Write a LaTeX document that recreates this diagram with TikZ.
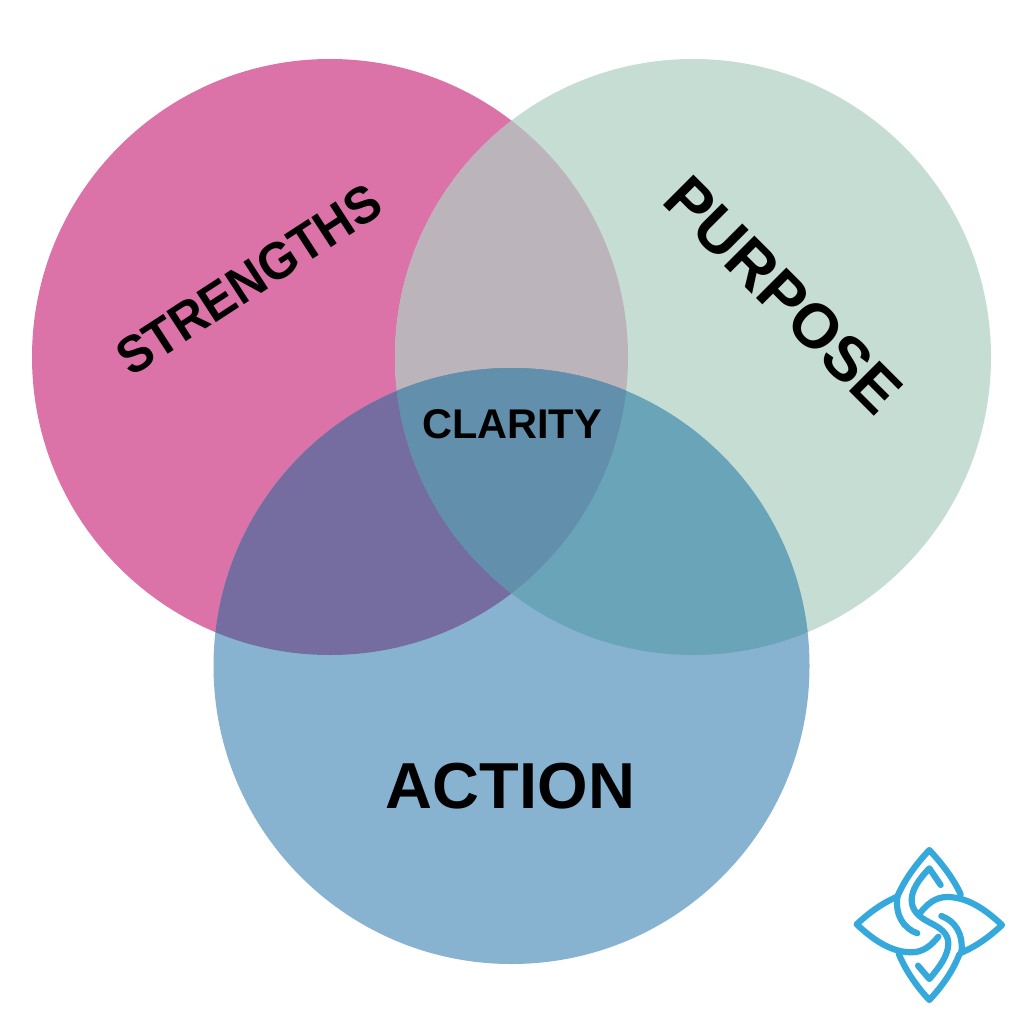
\documentclass[tikz,border=0pt]{standalone}
\usepackage{fontspec}
\setmainfont{Liberation Sans}
\definecolor{pinkc}{HTML}{DB72A8}
\definecolor{greenc}{HTML}{C6DDD4}
\definecolor{bluec}{HTML}{87B3D0}
\definecolor{pgc}{HTML}{BBB4BB}
\definecolor{pbc}{HTML}{756C9F}
\definecolor{gbc}{HTML}{6AA4B9}
\definecolor{allc}{HTML}{628FAC}
\definecolor{logoc}{HTML}{36A9DC}
\tikzset{
  label text/.style={font=\bfseries, text=black, inner sep=0pt},
  logoline/.style={draw=logoc, line width=6.2pt, line cap=round, line join=round, fill=none}
}
\newcommand{\cP}{(330,357) circle[radius=298]}
\newcommand{\cG}{(693,357) circle[radius=298]}
\newcommand{\cB}{(511.5,666) circle[radius=298]}
\begin{document}
\begin{tikzpicture}[x=1pt,y=-1pt]
\useasboundingbox (0,0) rectangle (1024,1024);
\fill[white] (0,0) rectangle (1024,1024);
\fill[pinkc] \cP;
\fill[greenc] \cG;
\fill[bluec] \cB;
\begin{scope}\clip \cP; \fill[pgc] \cG; \end{scope}
\begin{scope}\clip \cP; \fill[pbc] \cB; \end{scope}
\begin{scope}\clip \cG; \fill[gbc] \cB; \end{scope}
\begin{scope}\clip \cP; \clip \cG; \fill[allc] \cB; \end{scope}
\node[label text, rotate=33] (strengths) at (249,280) {\scalebox{0.95}[1]{\fontsize{52}{60}\selectfont STRENGTHS}};
\node[label text, rotate=-45] (purpose) at (783.5,295) {\fontsize{62.5}{70}\selectfont PURPOSE};
\node[label text] (action) at (510.5,786.5) {\fontsize{65}{70}\selectfont ACTION};
\node[label text] (clarity) at (512,424) {\fontsize{41.5}{46}\selectfont CLARITY};
\begin{scope}[shift={(840,835)}, x=0.3333pt, y=-0.3333pt]
  \draw[logoline] (172,185) .. controls (125,205) and (85,235) .. (50,268)
     .. controls (95,310) and (150,352) .. (215,352)
     .. controls (250,352) and (275,330) .. (295,305);
  \draw[logoline] (172,185) .. controls (165,240) and (190,280) .. (232,295);
  \draw[logoline] (364,353) .. controls (411,333) and (451,303) .. (486,270)
     .. controls (441,228) and (386,186) .. (321,186)
     .. controls (286,186) and (261,208) .. (241,233);
  \draw[logoline] (364,353) .. controls (371,298) and (346,258) .. (304,243);
  \draw[logoline] (172,185) .. controls (195,130) and (235,80) .. (268,45)
     .. controls (305,85) and (340,130) .. (362,178);
  \draw[logoline] (176,356) .. controls (198,410) and (235,460) .. (268,495)
     .. controls (305,455) and (338,410) .. (358,358);
  \draw[logoline] (302,150) -- (268,100) .. controls (235,135) and (215,165) .. (215,195)
     .. controls (215,225) and (235,245) .. (268,262)
     .. controls (300,278) and (325,295) .. (325,325)
     .. controls (325,360) and (300,395) .. (268,432) -- (234,392);
\end{scope}
\end{tikzpicture}
\end{document}
